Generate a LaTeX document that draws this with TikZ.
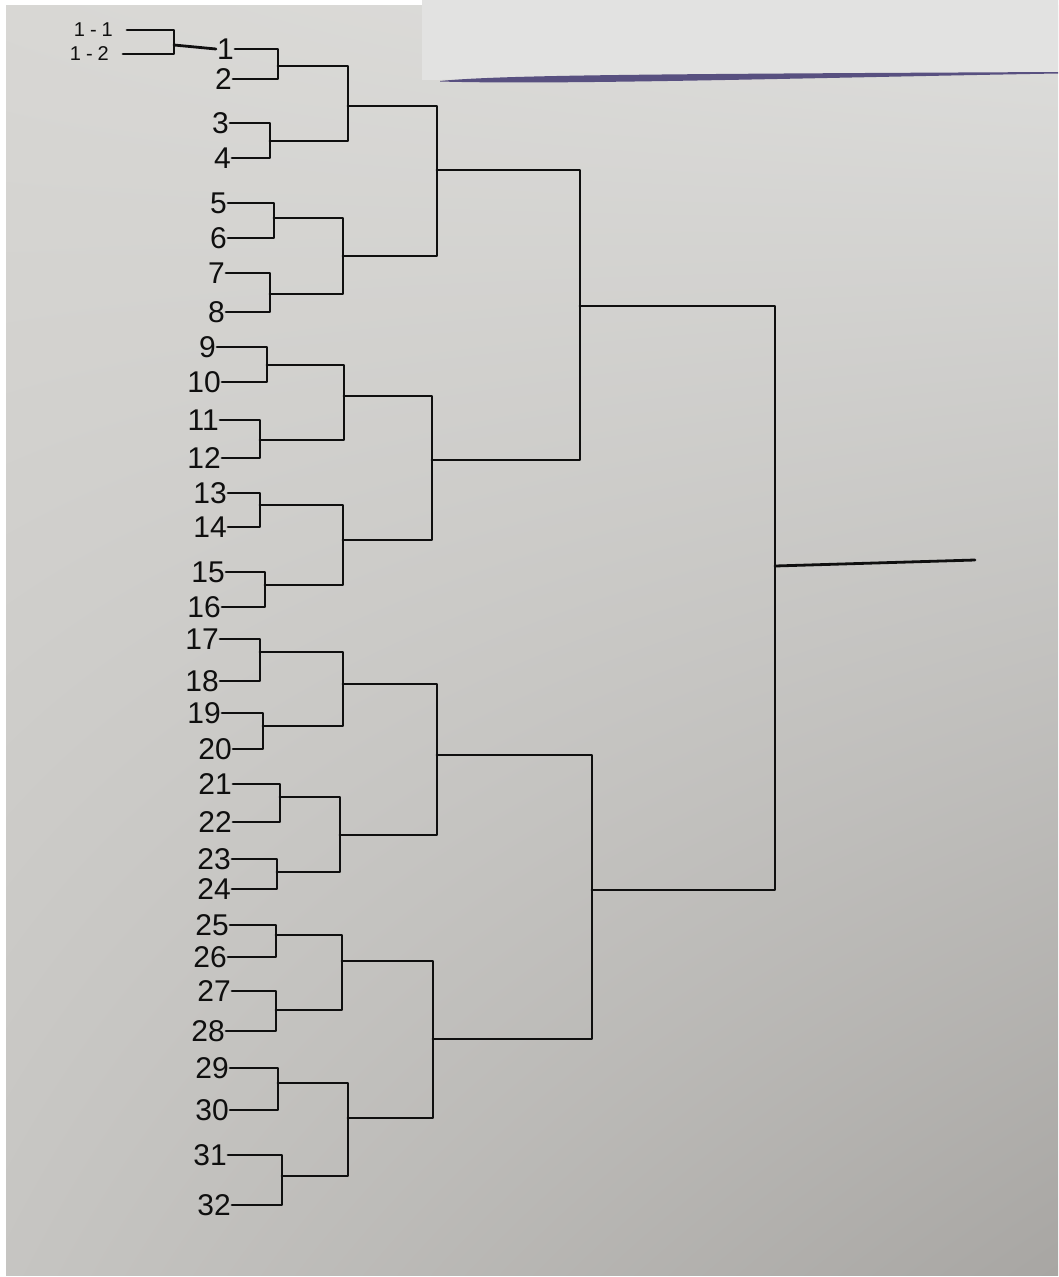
\documentclass[tikz,border=0pt]{standalone}
\usepackage{fontspec}
\setmainfont{Liberation Sans}
\usetikzlibrary{shadings}
\definecolor{paperUL}{RGB}{216,215,212}
\definecolor{paperUR}{RGB}{222,222,220}
\definecolor{paperLL}{RGB}{198,197,194}
\definecolor{paperLR}{RGB}{168,166,163}
\definecolor{sheet}{RGB}{226,226,225}
\definecolor{shadow}{RGB}{88,80,128}
\definecolor{ink}{RGB}{15,15,15}
\begin{document}
\begin{tikzpicture}[x=1pt,y=-1pt,
  ln/.style={draw=ink,line width=2.8pt,line join=round,line cap=round},
  lab/.style={anchor=east,inner sep=1pt,text=ink,font=\fontsize{30}{32}\selectfont},
  sublab/.style={anchor=east,inner sep=1pt,inner xsep=14pt,text=ink,font=\fontsize{20}{22}\selectfont}]
\useasboundingbox (0,0) rectangle (1058,1277);
% paper background
\fill[white] (0,0) rectangle (1058,1277);
\shade[upper left=paperUL,upper right=paperUR,lower left=paperLL,lower right=paperLR] (6,5) rectangle (1058,1275);
% overlapping white sheet with its shadow
\fill[sheet] (422,0) -- (1058,0) -- (1058,72) -- (422,80) -- cycle;
\fill[shadow] (440,81) .. controls (500,75) and (650,74) .. (1058,72) -- (1058,73.5) .. controls (800,78) and (560,85) .. (440,81.5) -- cycle;

% sub-leaves
\node[sublab] (s1) at (127,30) {1\hspace{5pt}-\hspace{5pt}1};
\node[sublab] (s2) at (123,54) {1\hspace{5pt}-\hspace{5pt}2};
% leaves
\node[lab] (L1) at (235,49) {1};
\node[lab] (L2) at (233,79) {2};
\node[lab] (L3) at (230,123) {3};
\node[lab] (L4) at (232,158) {4};
\node[lab] (L5) at (228,203) {5};
\node[lab] (L6) at (228,238) {6};
\node[lab] (L7) at (226,273) {7};
\node[lab] (L8) at (226,312) {8};
\node[lab] (L9) at (217,347) {9};
\node[lab] (L10) at (222,382) {10};
\node[lab] (L11) at (220,420) {11};
\node[lab] (L12) at (222,458) {12};
\node[lab] (L13) at (228,493) {13};
\node[lab] (L14) at (228,527) {14};
\node[lab] (L15) at (226,572) {15};
\node[lab] (L16) at (222,607) {16};
\node[lab] (L17) at (220,639) {17};
\node[lab] (L18) at (220,681) {18};
\node[lab] (L19) at (222,713) {19};
\node[lab] (L20) at (233,749) {20};
\node[lab] (L21) at (233,784) {21};
\node[lab] (L22) at (233,822) {22};
\node[lab] (L23) at (232,859) {23};
\node[lab] (L24) at (232,889) {24};
\node[lab] (L25) at (230,925) {25};
\node[lab] (L26) at (228,957) {26};
\node[lab] (L27) at (232,991) {27};
\node[lab] (L28) at (226,1031) {28};
\node[lab] (L29) at (230,1068) {29};
\node[lab] (L30) at (230,1110) {30};
\node[lab] (L31) at (228,1155) {31};
\node[lab] (L32) at (232,1205) {32};

% junctions
\coordinate (j0) at (174,45);
\coordinate (a1) at (278,66);
\coordinate (a2) at (270,141);
\coordinate (a3) at (274,218);
\coordinate (a4) at (270,294);
\coordinate (a5) at (267,365);
\coordinate (a6) at (260,440);
\coordinate (a7) at (260,505);
\coordinate (a8) at (265,585);
\coordinate (a9) at (260,652);
\coordinate (a10) at (263,726);
\coordinate (a11) at (280,797);
\coordinate (a12) at (277,872);
\coordinate (a13) at (276,935);
\coordinate (a14) at (276,1010);
\coordinate (a15) at (278,1083);
\coordinate (a16) at (282,1176);
\coordinate (b1) at (348,106);
\coordinate (b2) at (343,256);
\coordinate (b3) at (344,396);
\coordinate (b4) at (343,540);
\coordinate (b5) at (343,684);
\coordinate (b6) at (340,835);
\coordinate (b7) at (342,961);
\coordinate (b8) at (348,1118);
\coordinate (c1) at (437,170);
\coordinate (c2) at (432,460);
\coordinate (c3) at (437,755);
\coordinate (c4) at (433,1039);
\coordinate (d1) at (580,306);
\coordinate (d2) at (592,890);
\coordinate (e) at (775,566);
\coordinate (root) at (975,560);

% connectors
\draw[ln] (s1.east) -| (j0) |- (s2.east);
\draw[ln] (j0) -- (L1.west);
\draw[ln] (L1.east) -| (a1) |- (L2.east);
\draw[ln] (L3.east) -| (a2) |- (L4.east);
\draw[ln] (L5.east) -| (a3) |- (L6.east);
\draw[ln] (L7.east) -| (a4) |- (L8.east);
\draw[ln] (L9.east) -| (a5) |- (L10.east);
\draw[ln] (L11.east) -| (a6) |- (L12.east);
\draw[ln] (L13.east) -| (a7) |- (L14.east);
\draw[ln] (L15.east) -| (a8) |- (L16.east);
\draw[ln] (L17.east) -| (a9) |- (L18.east);
\draw[ln] (L19.east) -| (a10) |- (L20.east);
\draw[ln] (L21.east) -| (a11) |- (L22.east);
\draw[ln] (L23.east) -| (a12) |- (L24.east);
\draw[ln] (L25.east) -| (a13) |- (L26.east);
\draw[ln] (L27.east) -| (a14) |- (L28.east);
\draw[ln] (L29.east) -| (a15) |- (L30.east);
\draw[ln] (L31.east) -| (a16) |- (L32.east);
\draw[ln] (a1) -| (b1) |- (a2);
\draw[ln] (a3) -| (b2) |- (a4);
\draw[ln] (a5) -| (b3) |- (a6);
\draw[ln] (a7) -| (b4) |- (a8);
\draw[ln] (a9) -| (b5) |- (a10);
\draw[ln] (a11) -| (b6) |- (a12);
\draw[ln] (a13) -| (b7) |- (a14);
\draw[ln] (a15) -| (b8) |- (a16);
\draw[ln] (b1) -| (c1) |- (b2);
\draw[ln] (b3) -| (c2) |- (b4);
\draw[ln] (b5) -| (c3) |- (b6);
\draw[ln] (b7) -| (c4) |- (b8);
\draw[ln] (c1) -| (d1) |- (c2);
\draw[ln] (c3) -| (d2) |- (c4);
\draw[ln] (d1) -| (e) |- (d2);
\draw[ln] (e) -- (root);
\end{tikzpicture}
\end{document}
